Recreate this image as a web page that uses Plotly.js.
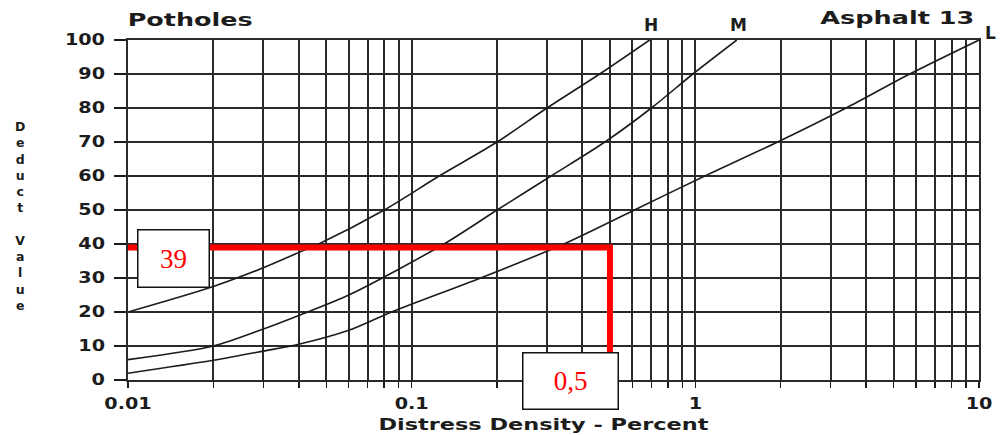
<!DOCTYPE html>
<html>
<head>
<meta charset="utf-8">
<script src="https://cdn.plot.ly/plotly-3.0.1.min.js"></script>
<style>
  html, body { margin: 0; padding: 0; background: #fff; }
  #chart { width: 1000px; height: 435px; }
</style>
</head>
<body>
<div id="chart"></div>
<script>
// Deduct value curves for potholes (asphalt), one per severity level
const highDensity = [0.01, 0.02, 0.03, 0.04, 0.047, 0.08, 0.125, 0.2, 0.3, 0.46, 0.69];
const highDeduct  = [20, 27.5, 33, 37.5, 40, 50, 60, 70, 80, 90, 100];

const medDensity = [0.01, 0.02, 0.03, 0.04, 0.06, 0.13, 0.2, 0.31, 0.48, 0.7, 0.98, 1.4];
const medDeduct  = [6, 10, 15, 19, 25, 40, 50, 60, 70, 80, 90, 100];

const lowDensity = [0.01, 0.02, 0.03, 0.04, 0.06, 0.085, 0.175, 0.344, 0.61, 1.08, 1.95, 3.4, 5.7, 10];
const lowDeduct  = [2, 5.8, 8.5, 10.5, 14.6, 20, 30, 40, 50, 60, 70, 80, 90, 100];

// Worked reading: density and resulting deduct value
const readDensity = 0.5;
const readDeduct = 39;

// Axis ticks
const yTicks = [0, 10, 20, 30, 40, 50, 60, 70, 80, 90, 100];
const decades = [0.01, 0.1, 1];
const decadeLabels = ['0.01', '0.1', '1', '10'];

const xTickVals = [];
const xTickText = [];
decades.forEach((d, i) => {
  for (let k = 1; k <= 9; k++) {
    xTickVals.push(+(d * k).toPrecision(3));
    xTickText.push(k === 1 ? decadeLabels[i] : '');
  }
});
xTickVals.push(10);
xTickText.push(decadeLabels[3]);

const ink = '#1c1c1c';
const gridInk = '#2a2a2a';
const boldFont = 'DejaVu Sans, Verdana, sans-serif';

// Plot box in pixels, used to place free text in paper coordinates
const M = { l: 128, r: 21, t: 40, b: 55 };
const W = 1000, H = 435;
const pw = W - M.l - M.r, ph = H - M.t - M.b;
const px = v => (v - M.l) / pw;
const py = v => (H - M.b - v) / ph;

const curveLine = { color: ink, width: 1.6, shape: 'spline', smoothing: 0.8 };

const traces = [
  { x: highDensity, y: highDeduct, mode: 'lines', line: curveLine, hoverinfo: 'skip', name: 'H' },
  { x: medDensity,  y: medDeduct,  mode: 'lines', line: curveLine, hoverinfo: 'skip', name: 'M' },
  { x: lowDensity,  y: lowDeduct,  mode: 'lines', line: curveLine, hoverinfo: 'skip', name: 'L' },
  {
    x: [decades[0], readDensity, readDensity],
    y: [readDeduct, readDeduct, 0],
    mode: 'lines',
    line: { color: '#ff0000', width: 6 },
    cliponaxis: false,
    hoverinfo: 'skip',
    name: 'reading'
  }
];

const label = (text, x, y, size, extra) => Object.assign({
  text: text, xref: 'paper', yref: 'paper', x: px(x), y: py(y),
  xanchor: 'center', yanchor: 'middle', showarrow: false,
  font: { family: boldFont, size: size, color: ink, weight: 700 }
}, extra || {});

const yTitle = 'Deduct Value'.split('').map(c => c === ' ' ? '' : c).join('<br>');

// Wide lettering for the headings: text -> drawn width in px
const headingWidths = {
  'Potholes': 125,
  'Asphalt 13': 154,
  'Distress Density - Percent': 330
};

const layout = {
  width: W, height: H,
  margin: M,
  paper_bgcolor: '#fff',
  plot_bgcolor: '#fff',
  showlegend: false,
  xaxis: {
    type: 'log',
    range: [-2, 1],
    tickvals: xTickVals,
    ticktext: xTickText,
    tickangle: 0,
    showgrid: true,
    gridcolor: gridInk,
    gridwidth: 2,
    showline: true,
    linecolor: gridInk,
    linewidth: 2,
    mirror: true,
    ticks: 'outside',
    ticklen: 6,
    tickwidth: 1.5,
    tickcolor: ink,
    ticklabelstandoff: 3,
    tickfont: { family: boldFont, size: 15, color: ink, weight: 700 },
    zeroline: false,
    fixedrange: true
  },
  yaxis: {
    range: [0, 100],
    tickvals: yTicks,
    showgrid: true,
    gridcolor: gridInk,
    gridwidth: 2,
    showline: true,
    linecolor: gridInk,
    linewidth: 2,
    mirror: true,
    ticks: 'outside',
    ticklen: 12,
    tickwidth: 1.8,
    tickcolor: ink,
    ticklabelstandoff: 6,
    tickfont: { family: boldFont, size: 15, color: ink, weight: 700 },
    zeroline: false,
    fixedrange: true
  },
  annotations: [
    label('Potholes', 190, 20, 18),
    label('Asphalt 13', 897, 17, 18),
    label('H', 651, 25, 17),
    label('M', 738, 25, 17),
    label('L', 991, 33, 17),
    label('Distress Density - Percent', 543, 425, 15),
    label(yTitle, 20, 216, 12.5),
    {
      text: String(readDeduct),
      xref: 'paper', yref: 'paper', x: px(173), y: py(258.5),
      xanchor: 'center', yanchor: 'middle', showarrow: false,
      width: 70, height: 56, borderpad: 0,
      bgcolor: '#fff', bordercolor: '#111', borderwidth: 1.5,
      font: { family: 'Liberation Serif, Times New Roman, serif', size: 27, color: '#ff0000' }
    },
    {
      text: String(readDensity).replace('.', ','),
      xref: 'paper', yref: 'paper', x: px(570), y: py(381),
      xanchor: 'center', yanchor: 'middle', showarrow: false,
      width: 94, height: 55, borderpad: 0,
      bgcolor: '#fff', bordercolor: '#111', borderwidth: 1.5,
      font: { family: 'Liberation Serif, Times New Roman, serif', size: 27, color: '#ff0000' }
    }
  ]
};

function stretchText(el, width) {
  el.setAttribute('textLength', width.toFixed(1));
  el.setAttribute('lengthAdjust', 'spacingAndGlyphs');
}

Plotly.newPlot('chart', traces, layout, { staticPlot: true, displayModeBar: false }).then(() => {
  document.querySelectorAll('#chart .annotation-text').forEach(t => {
    const w = headingWidths[t.textContent];
    if (w) stretchText(t, w);
  });
  document.querySelectorAll('#chart .xtick text, #chart .ytick text').forEach(t => {
    if (t.textContent) stretchText(t, t.getComputedTextLength() * 1.28);
  });
});
</script>
</body>
</html>
